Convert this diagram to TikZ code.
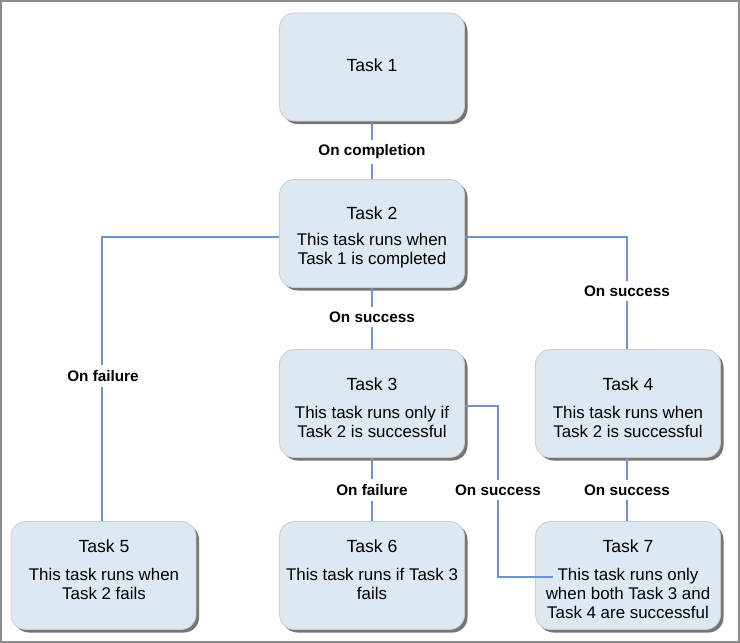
\documentclass[tikz,border=0pt]{standalone}
\usepackage{fontspec}
\setmainfont{Liberation Sans}
\usetikzlibrary{shadows}
\definecolor{boxfill}{RGB}{221,232,243}
\definecolor{boxline}{RGB}{200,205,212}
\definecolor{conn}{RGB}{108,148,202}
\definecolor{frame}{RGB}{140,140,140}
\tikzset{
  taskbox/.style={draw=boxline, line width=0.8pt, fill=boxfill, rounded corners=15pt,
    minimum width=185pt, minimum height=108pt, inner sep=0pt,
    drop shadow={shadow xshift=3pt, shadow yshift=-3pt, fill=black!60, opacity=0.9}},
  tasktitle/.style={font=\fontsize{17.6}{19}\selectfont, inner sep=0pt, anchor=center},
  taskdesc/.style={font=\fontsize{16.9}{19}\selectfont, align=center, inner sep=0pt, anchor=center},
  connector/.style={draw=conn, line width=1.8pt},
  condlabel/.style={fill=white, font=\bfseries\fontsize{15.3}{16}\selectfont, inner xsep=3pt, inner ysep=5pt}
}
\begin{document}
\begin{tikzpicture}[x=1pt, y=-1pt]
\useasboundingbox (0,0) rectangle (740,643);
\draw[frame, line width=1.5pt] (1,1) rectangle (739,642);

% boxes
\node[taskbox] (t1) at (372,67) {};
\node[taskbox] (t2) at (372,233.5) {};
\node[taskbox] (t3) at (372,403.5) {};
\node[taskbox] (t4) at (628,403.5) {};
\node[taskbox] (t5) at (103.5,575.5) {};
\node[taskbox] (t6) at (372,575.5) {};
\node[taskbox] (t7) at (628,575.5) {};

% texts
\node[tasktitle] (t1title) at (372,65) {Task 1};
\node[tasktitle] (t2title) at (372,213) {Task 2};
\node[taskdesc] (t2desc) at (372,251) {This task runs when\\Task 1 is completed};
\node[tasktitle] (t3title) at (372,384) {Task 3};
\node[taskdesc] (t3desc) at (372,421.5) {This task runs only if\\Task 2 is successful};
\node[tasktitle] (t4title) at (628,384) {Task 4};
\node[taskdesc] (t4desc) at (628,421.5) {This task runs when\\Task 2 is successful};
\node[tasktitle] (t5title) at (104,546) {Task 5};
\node[taskdesc] (t5desc) at (104,583.5) {This task runs when\\Task 2 fails};
\node[tasktitle] (t6title) at (372,546) {Task 6};
\node[taskdesc] (t6desc) at (372,583.5) {This task runs if Task 3\\fails};
\node[tasktitle] (t7title) at (628,546) {Task 7};
\node[taskdesc] (t7desc) at (628,593) {This task runs only\\when both Task 3 and\\Task 4 are successful};

% connectors
\coordinate (c37) at (553,577);
\draw[connector] (t1.south) -- (t2.north);
\draw[connector] (t2.south) -- (t3.north);
\draw[connector] (t3.south) -- (t6.north);
\draw[connector] (t2.west |- 0,237) -| (t5.north -| 102,0);
\draw[connector] (t2.east |- 0,237) -| (t4.north -| 627,0);
\draw[connector] (t4.south -| 627,0) -- (t7.north -| 627,0);
\draw[connector] (t3.east |- 0,406) -- (498,406) |- (c37);

% labels
\node[condlabel] (l1) at (372,152) {On completion};
\node[condlabel] (l2) at (372,317) {On success};
\node[condlabel] (l3) at (103,376) {On failure};
\node[condlabel] (l4) at (627,291) {On success};
\node[condlabel] (l5) at (372,490) {On failure};
\node[condlabel] (l6) at (498,490) {On success};
\node[condlabel] (l7) at (627,490) {On success};
\end{tikzpicture}
\end{document}
